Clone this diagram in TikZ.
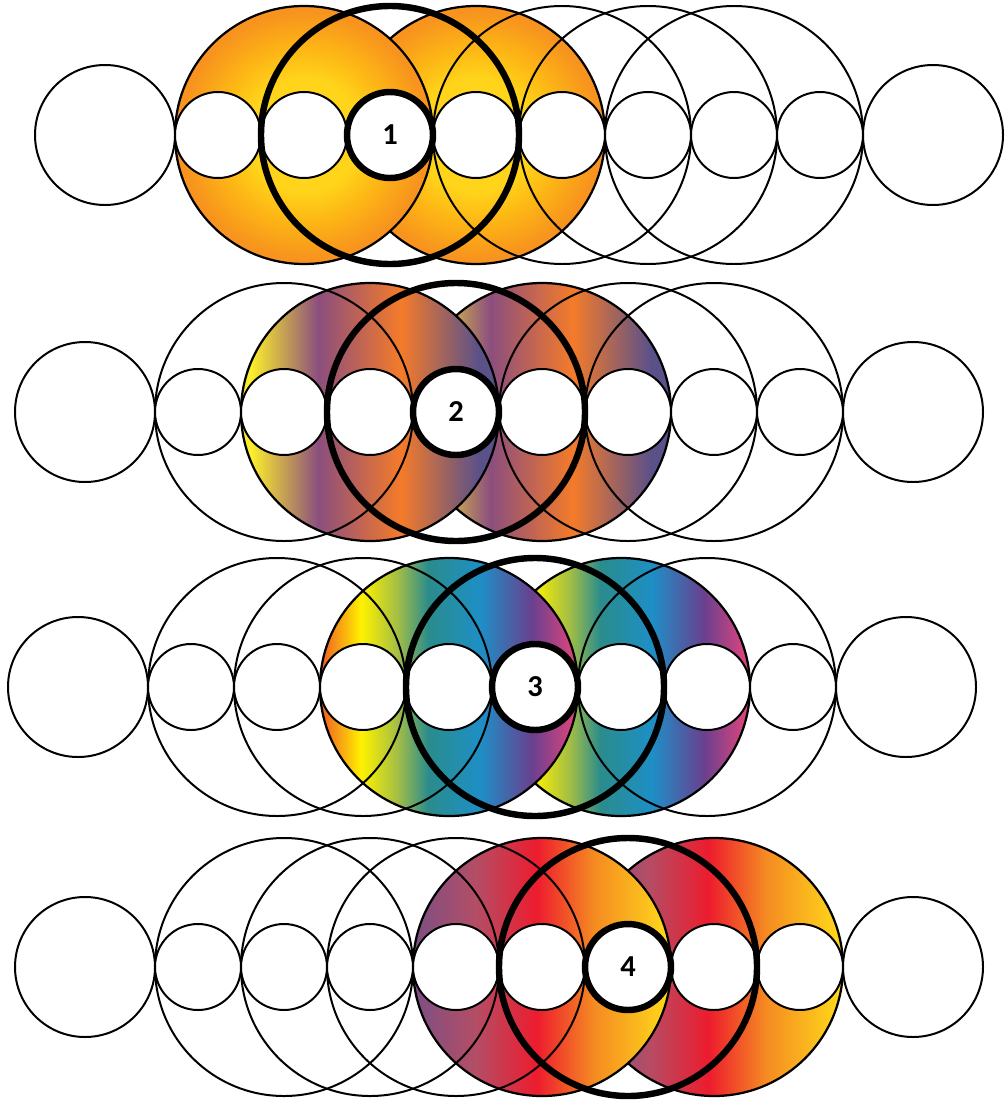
\documentclass[tikz,border=0pt]{standalone}
\usepackage{fontspec}
\setmainfont{Carlito}
\usepackage{tikz}

\definecolor{sunyellow}{HTML}{FFD41A}
\definecolor{sungold}{HTML}{FDB515}
\definecolor{sunorange}{HTML}{F7931E}
\definecolor{duskyellow}{HTML}{FBEE2C}
\definecolor{duskplum}{HTML}{8B4E7E}
\definecolor{duskorange}{HTML}{F47B2A}
\definecolor{duskblue}{HTML}{5B5189}
\definecolor{specred}{HTML}{F15A24}
\definecolor{specyellow}{HTML}{FFF200}
\definecolor{specgreen}{HTML}{A3BE45}
\definecolor{specteal}{HTML}{2A8C8C}
\definecolor{specblue}{HTML}{1E8FC6}
\definecolor{specviolet}{HTML}{69408F}
\definecolor{specpink}{HTML}{E8457A}
\definecolor{emberplum}{HTML}{7B4F83}
\definecolor{embermauve}{HTML}{B34E66}
\definecolor{emberred}{HTML}{ED1C2E}
\definecolor{emberorange}{HTML}{F58A22}
\definecolor{emberyellow}{HTML}{FFDC1A}

% fills of the coloured rings (the path box runs from 25bp to 75bp)
\pgfdeclareradialshading{sunring}{\pgfpoint{0bp}{0bp}}{color(0bp)=(sunyellow); color(11bp)=(sunyellow); color(17bp)=(sungold); color(24bp)=(sunorange); color(50bp)=(sunorange)}
\pgfdeclarehorizontalshading{duskring}{100bp}{color(0bp)=(duskyellow); color(27bp)=(duskyellow); color(40bp)=(duskplum); color(56bp)=(duskorange); color(71bp)=(duskblue); color(100bp)=(duskblue)}
\pgfdeclarehorizontalshading{specring}{100bp}{color(0bp)=(specred); color(25bp)=(specred); color(33bp)=(specyellow); color(40bp)=(specgreen); color(46bp)=(specteal); color(56bp)=(specblue); color(66bp)=(specviolet); color(75bp)=(specpink); color(100bp)=(specpink)}
\pgfdeclarehorizontalshading{emberring}{100bp}{color(0bp)=(emberplum); color(25bp)=(emberplum); color(37bp)=(embermauve); color(49bp)=(emberred); color(60bp)=(emberorange); color(75bp)=(emberyellow); color(100bp)=(emberyellow)}

\tikzset{
  bigring/.style={circle,draw,line width=1.7pt,inner sep=0pt,minimum size=77.4mm},
  boldring/.style={bigring,line width=5.5pt},
  sunfill/.style={bigring,line width=1.9pt,shading=sunring},
  duskfill/.style={bigring,line width=1.9pt,shading=duskring},
  specfill/.style={bigring,line width=1.9pt,shading=specring},
  emberfill/.style={bigring,line width=1.9pt,shading=emberring},
  smallring/.style={circle,draw,fill=white,line width=1.7pt,inner sep=0pt,minimum size=25.8mm},
  endring/.style={smallring,minimum size=42mm},
  hub/.style={smallring,line width=5.5pt,font=\fontsize{26}{26}\selectfont\bfseries}
}

\begin{document}
\begin{tikzpicture}[x=0.3mm,y=-0.3mm]
\useasboundingbox (0,0) rectangle (1004,1110);

% row 1
\node[sunfill] (r1b4) at (476,135) {};
\node[sunfill] (r1b2) at (304,135) {};
\node[bigring] (r1b5) at (562,135) {};
\node[bigring] (r1b6) at (648,135) {};
\node[bigring] (r1b7) at (734,135) {};
\node[endring] (r1e1) at (105,135) {};
\node[smallring] (r1s1) at (218,135) {};
\node[smallring] (r1s2) at (304,135) {};
\node[smallring] (r1s4) at (476,135) {};
\node[smallring] (r1s5) at (562,135) {};
\node[smallring] (r1s6) at (648,135) {};
\node[smallring] (r1s7) at (734,135) {};
\node[smallring] (r1s8) at (820,135) {};
\node[endring] (r1e2) at (933,135) {};
\node[boldring] (r1b3) at (390,135) {};
\node[hub] (r1s3) at (390,135) {1};

% row 2
\node[duskfill] (r2b5) at (542,412) {};
\node[duskfill] (r2b3) at (370,412) {};
\node[bigring] (r2b2) at (284,412) {};
\node[bigring] (r2b6) at (628,412) {};
\node[bigring] (r2b7) at (714,412) {};
\node[endring] (r2e1) at (85,412) {};
\node[smallring] (r2s1) at (198,412) {};
\node[smallring] (r2s2) at (284,412) {};
\node[smallring] (r2s3) at (370,412) {};
\node[smallring] (r2s5) at (542,412) {};
\node[smallring] (r2s6) at (628,412) {};
\node[smallring] (r2s7) at (714,412) {};
\node[smallring] (r2s8) at (800,412) {};
\node[endring] (r2e2) at (913,412) {};
\node[boldring] (r2b4) at (456,412) {};
\node[hub] (r2s4) at (456,412) {2};

% row 3
\node[specfill] (r3b6) at (621,687) {};
\node[specfill] (r3b4) at (449,687) {};
\node[bigring] (r3b2) at (277,687) {};
\node[bigring] (r3b3) at (363,687) {};
\node[bigring] (r3b7) at (707,687) {};
\node[endring] (r3e1) at (78,687) {};
\node[smallring] (r3s1) at (191,687) {};
\node[smallring] (r3s2) at (277,687) {};
\node[smallring] (r3s3) at (363,687) {};
\node[smallring] (r3s4) at (449,687) {};
\node[smallring] (r3s6) at (621,687) {};
\node[smallring] (r3s7) at (707,687) {};
\node[smallring] (r3s8) at (793,687) {};
\node[endring] (r3e2) at (906,687) {};
\node[boldring] (r3b5) at (535,687) {};
\node[hub] (r3s5) at (535,687) {3};

% row 4
\node[emberfill] (r4b7) at (714,967) {};
\node[emberfill] (r4b5) at (542,967) {};
\node[bigring] (r4b2) at (284,967) {};
\node[bigring] (r4b3) at (370,967) {};
\node[bigring] (r4b4) at (456,967) {};
\node[endring] (r4e1) at (85,967) {};
\node[smallring] (r4s1) at (198,967) {};
\node[smallring] (r4s2) at (284,967) {};
\node[smallring] (r4s3) at (370,967) {};
\node[smallring] (r4s4) at (456,967) {};
\node[smallring] (r4s5) at (542,967) {};
\node[smallring] (r4s7) at (714,967) {};
\node[smallring] (r4s8) at (800,967) {};
\node[endring] (r4e2) at (913,967) {};
\node[boldring] (r4b6) at (628,967) {};
\node[hub] (r4s6) at (628,967) {4};
\end{tikzpicture}
\end{document}
